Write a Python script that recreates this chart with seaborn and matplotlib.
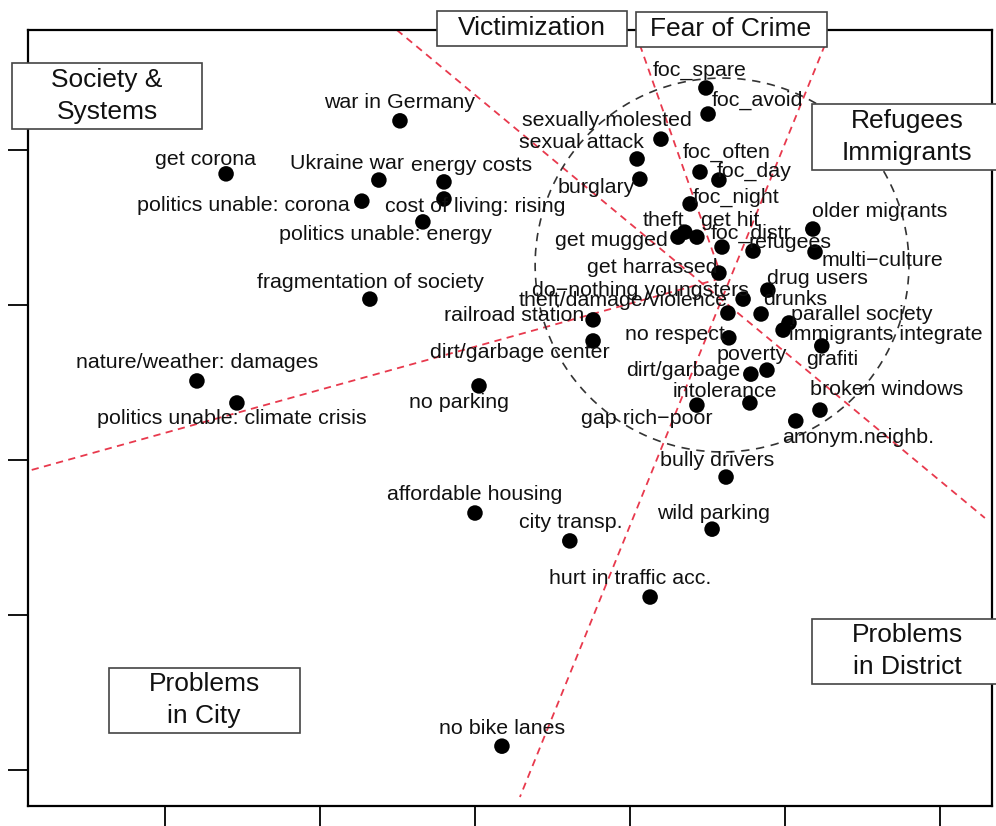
import matplotlib
matplotlib.use("Agg")
import matplotlib.pyplot as plt
import matplotlib.patches as patches
import numpy as np
import pandas as pd
import seaborn as sns

sns.set_style("white")
plt.rcParams["font.family"] = ["Liberation Sans", "DejaVu Sans"]

# item labels and their coordinates in the map
labels = ["foc_spare", "foc_avoid", "sexually molested", "sexual attack", "foc_often",
          "foc_day", "burglary", "foc_night", "theft", "get mugged", "get hit", "foc_distr",
          "refugees", "older migrants", "multi\u2212culture", "get harrassed", "drug users",
          "do\u2212nothing youngsters", "theft/damage/violence", "drunks", "parallel society",
          "immigrants integrate", "railroad station", "dirt/garbage center", "no respect",
          "grafiti", "poverty", "dirt/garbage", "intolerance", "gap rich\u2212poor",
          "broken windows", "anonym.neighb.", "bully drivers", "wild parking",
          "hurt in traffic acc.", "city transp.", "affordable housing", "no bike lanes",
          "no parking", "nature/weather: damages", "politics unable: climate crisis",
          "fragmentation of society", "war in Germany", "get corona", "Ukraine war",
          "energy costs", "politics unable: corona", "cost of living: rising",
          "politics unable: energy"]
dim1 = [0.245, 0.252, 0.100, 0.023, 0.226, 0.287, 0.032, 0.194, 0.177, 0.155, 0.216, 0.297,
        0.397, 0.590, 0.597, 0.287, 0.445, 0.365, 0.316, 0.423, 0.513, 0.494, -0.119, -0.119,
        0.319, 0.619, 0.442, 0.390, 0.387, 0.216, 0.613, 0.535, 0.310, 0.265, 0.065, -0.194,
        -0.500, -0.413, -0.487, -1.397, -1.268, -0.839, -0.742, -1.303, -0.810, -0.600,
        -0.865, -0.600, -0.668]
dim2 = [1.200, 1.116, 1.035, 0.971, 0.929, 0.903, 0.906, 0.826, 0.735, 0.719, 0.719, 0.687,
        0.674, 0.745, 0.671, 0.603, 0.548, 0.519, 0.474, 0.471, 0.442, 0.419, 0.452, 0.384,
        0.394, 0.368, 0.290, 0.277, 0.184, 0.177, 0.161, 0.126, -0.055, -0.223, -0.442,
        -0.261, -0.171, -0.923, 0.239, 0.255, 0.184, 0.519, 1.094, 0.923, 0.903, 0.897,
        0.835, 0.842, 0.768]
# label offsets from the dot, in pixels (up = positive)
lab_dx = [-6, 49, -54, -56, 27, 35, -44, 46, -21, -67, 33, 29, 37, 67, 67, -67, 50, -103,
          -105, 34, 73, 103, -79, -73, -54, 10, -15, -68, -25, -50, 67, 62, -9, 1, -20, 1,
          0, 0, -20, 0, -5, 1, 0, -21, -32, 28, -118, 31, -37]
lab_dy = [18, 14, 19, 16, 20, 9, -8, 7, 12, -3, 17, 14, 9, 18, -9, 6, 12, 9, 13, 14, 8, -4,
          4, -12, 3, -14, 16, 4, 11, -13, 21, -17, 17, 16, 19, 18, 19, 18, -17, 18, -16, 17,
          18, 14, 17, 16, -4, -8, -13]

# sector separators (start x, start y, end x, end y)
sep_x0 = [-0.752, 0.629, -1.930, 0.032]
sep_y0 = [1.387, 1.339, -0.032, 1.339]
sep_x1 = [1.145, -0.355, 0.297, 0.297]
sep_y1 = [-0.187, -1.087, 0.587, 0.587]

circle_center = (0.297, 0.629)
circle_r = 0.603

# group boxes: text, centre (px), width, height (px)
box_text = ["Society &\nSystems", "Victimization", "Fear of Crime", "Refugees\nImmigrants",
            "Problems\nin District", "Problems\nin City"]
box_cx = [107, 532, 731, 907, 907, 204]
box_cy = [96, 28, 29, 137, 651, 700]
box_w = [190, 190, 191, 190, 190, 191]
box_h = [65, 35, 35, 65, 65, 65]

df = pd.DataFrame({"label": labels, "dim1": dim1, "dim2": dim2})

W, H = 996, 826
fig = plt.figure(figsize=(W / 100, H / 100), dpi=100)
ax = fig.add_axes([28 / W, 1 - 806 / H, (992 - 28) / W, (806 - 30) / H])

for a, b, c, d in zip(sep_x0, sep_y0, sep_x1, sep_y1):
    ax.plot([a, c], [b, d], color="#e8394d", lw=1.3, ls=(0, (4, 3)), zorder=1)

t = np.linspace(0, 2 * np.pi, 300)
ax.plot(circle_center[0] + circle_r * np.cos(t), circle_center[1] + circle_r * np.sin(t),
        color="#333333", lw=1.2, ls=(0, (5, 4)), zorder=1)

sns.scatterplot(data=df, x="dim1", y="dim2", color="black", s=125, edgecolor="none",
                ax=ax, zorder=3, legend=False)

for i, row in df.iterrows():
    ax.annotate(row["label"], (row["dim1"], row["dim2"]), xytext=(lab_dx[i], lab_dy[i]),
                textcoords="offset pixels", ha="center", va="center", fontsize=15.4,
                color="#111111", zorder=4)

ax.set_xlim(-1.942, 1.168)
ax.set_ylim(-1.116, 1.387)
ax.set_xticks([-1.5, -1.0, -0.5, 0.0, 0.5, 1.0])
ax.set_yticks([-1.0, -0.5, 0.0, 0.5, 1.0])
ax.set_xticklabels([])
ax.set_yticklabels([])
ax.set_xlabel("")
ax.set_ylabel("")
ax.tick_params(length=14.4, width=1.3, direction="out", color="black",
               bottom=True, left=True)
for sp in ax.spines.values():
    sp.set_linewidth(1.6)
    sp.set_color("black")

for txt, cx, cy, w, h in zip(box_text, box_cx, box_cy, box_w, box_h):
    rect = patches.Rectangle(((cx - w / 2) / W, 1 - (cy + h / 2) / H), w / W, h / H,
                             transform=fig.transFigure, facecolor="white",
                             edgecolor="#444444", lw=1.2, zorder=10)
    fig.add_artist(rect)
    fig.text(cx / W, 1 - cy / H, txt, ha="center", va="center", fontsize=19,
             linespacing=1.42, color="#111111", zorder=11)

fig.savefig("out.png", dpi=100)
